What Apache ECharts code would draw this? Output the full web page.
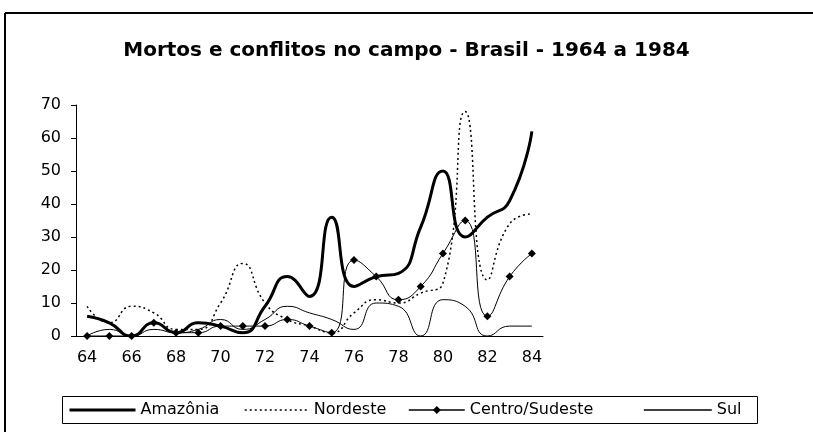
<!DOCTYPE html>
<html>
<head>
<meta charset="utf-8">
<script src="https://cdn.jsdelivr.net/npm/echarts@6/dist/echarts.min.js"></script>
<style>
  html, body { margin: 0; padding: 0; background: #fff; }
  #chart { width: 813px; height: 432px; }
</style>
</head>
<body>
<div id="chart"></div>
<script>
// anos 1964-1984 (rótulos de dois dígitos)
const years = ['64', '65', '66', '67', '68', '69', '70', '71', '72', '73', '74',
  '75', '76', '77', '78', '79', '80', '81', '82', '83', '84'];
const amazonia = [6, 4, 0, 4, 1, 4, 3, 1, 9, 18, 12, 36, 15, 18, 19, 33, 50, 30, 36, 41, 62];
const nordeste = [9, 4, 9, 7, 2, 2, 10, 22, 10, 5, 3, 1, 7, 11, 10, 13, 16, 68, 17, 34, 37];
const centroSudeste = [0, 0, 0, 4, 1, 1, 3, 3, 3, 5, 3, 1, 23, 18, 11, 15, 25, 35, 6, 18, 25];
const sul = [0, 2, 0, 2, 1, 2, 5, 2, 5, 9, 7, 5, 2, 10, 9, 0, 11, 9, 0, 3, 3];
const yTicks = [0, 70, 10]; // min, max, intervalo

const font = 'DejaVu Sans';
const chart = echarts.init(document.getElementById('chart'));

function line(name, data, style, extra) {
  return Object.assign({
    name: name,
    type: 'line',
    data: data,
    smooth: 0.55,
    symbol: 'none',
    lineStyle: Object.assign({ color: '#000' }, style),
    itemStyle: { color: '#000' },
  }, extra || {});
}

// uma legenda por item, para acertar o espaçamento da caixa
function legendItem(name, left, width, hideSymbol, lineWidth) {
  const item = { name: name, lineStyle: { width: lineWidth } };
  if (hideSymbol) item.itemStyle = { opacity: 0 };
  return {
    left: left,
    top: 402,
    itemWidth: width,
    itemHeight: 10,
    padding: 0,
    selectedMode: false,
    textStyle: { fontFamily: font, fontSize: 16, color: '#000' },
    data: [item],
  };
}

chart.setOption({
  animation: false,
  backgroundColor: '#fff',
  title: {
    text: 'Mortos e conflitos no campo - Brasil - 1964 a 1984',
    left: 'center',
    top: 36,
    textStyle: { fontFamily: font, fontSize: 20, fontWeight: 'bold', color: '#000' },
  },
  graphic: [
    { type: 'line', shape: { x1: 5, y1: 13, x2: 813, y2: 13 }, style: { stroke: '#000', lineWidth: 2 } },
    { type: 'line', shape: { x1: 5, y1: 13, x2: 5, y2: 432 }, style: { stroke: '#000', lineWidth: 2 } },
    { type: 'rect', shape: { x: 62.5, y: 396.5, width: 695, height: 27 }, style: { stroke: '#000', lineWidth: 1, fill: '#fff' } },
  ],
  legend: [
    legendItem('Amazônia', 68, 66, true, 3),
    legendItem('Nordeste', 244, 64, true, 1.5),
    legendItem('Centro/Sudeste', 408, 56, false, 1.6),
    legendItem('Sul', 643, 68, true, 1.6),
  ],
  grid: { left: 76, top: 105, width: 467, height: 231 },
  xAxis: {
    type: 'category',
    data: years,
    boundaryGap: true,
    axisLine: { lineStyle: { color: '#000', width: 1 } },
    axisTick: { interval: 0, length: 5, lineStyle: { color: '#000' } },
    axisLabel: { interval: 1, margin: 14, fontFamily: font, fontSize: 16, color: '#000' },
  },
  yAxis: {
    type: 'value',
    min: yTicks[0],
    max: yTicks[1],
    interval: yTicks[2],
    axisLine: { show: true, lineStyle: { color: '#000', width: 1 } },
    axisTick: { show: true, length: 5, lineStyle: { color: '#000' } },
    splitLine: { show: false },
    axisLabel: { margin: 15, fontFamily: font, fontSize: 16, color: '#000' },
  },
  series: [
    line('Amazônia', amazonia, { width: 3 }),
    line('Nordeste', nordeste, { width: 1.5, type: [2, 3] }),
    line('Centro/Sudeste', centroSudeste, { width: 1 }, { symbol: 'diamond', symbolSize: 8, showSymbol: true }),
    line('Sul', sul, { width: 1 }),
  ],
});
</script>
</body>
</html>
